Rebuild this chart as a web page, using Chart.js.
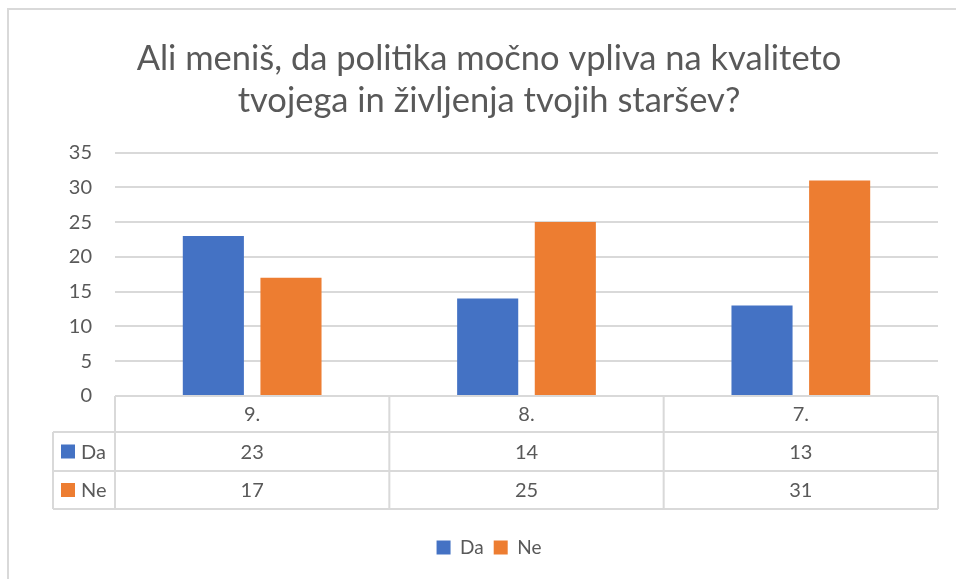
<!DOCTYPE html>
<html>
<head>
<meta charset="utf-8">
<script src="https://cdn.jsdelivr.net/npm/chart.js@4"></script>
<style>
  html, body { margin: 0; padding: 0; background: #fff; }
  #wrap { position: relative; width: 956px; height: 579px; }
</style>
</head>
<body>
<div id="wrap"><canvas id="chart" width="956" height="579"></canvas></div>
<script>
const titleLines = ["Ali meniš, da politika močno vpliva na kvaliteto", "tvojega in življenja tvojih staršev?"];
const categories = ["9.", "8.", "7."];
const daValues = [23, 14, 13];
const neValues = [17, 25, 31];
const yTicks = [0, 5, 10, 15, 20, 25, 30, 35];

const textColor = "#595959";
const lineColor = "#d9d9d9";
const blue = "#4472c4";
const orange = "#ed7d31";
const fontFamily = "Lato, 'Open Sans', sans-serif";

// excel style data table under the plot, plus the outer frame
const tablePlugin = {
    id: "dataTable",
    beforeDraw(chart) {
        const ctx = chart.ctx;
        ctx.save();
        ctx.strokeStyle = lineColor;
        ctx.lineWidth = 2;
        ctx.beginPath();
        ctx.moveTo(8, 579);
        ctx.lineTo(8, 9);
        ctx.lineTo(956, 9);
        ctx.stroke();
        ctx.restore();
    },
    afterDraw(chart) {
        const ctx = chart.ctx;
        const x = chart.scales.x;
        const area = chart.chartArea;
        const rowTop = area.bottom;
        const rowH = [36, 39, 38];
        const leftCol = 53;
        const y1 = rowTop + rowH[0];
        const y2 = y1 + rowH[1];
        const y3 = y2 + rowH[2];
        const colW = (area.right - area.left) / categories.length;

        ctx.save();
        ctx.strokeStyle = lineColor;
        ctx.lineWidth = 2;
        ctx.beginPath();
        // horizontal lines
        ctx.moveTo(area.left, rowTop); ctx.lineTo(area.right, rowTop);
        [y1, y2, y3].forEach(y => { ctx.moveTo(leftCol, y); ctx.lineTo(area.right, y); });
        // vertical lines
        for (let i = 0; i <= categories.length; i++) {
            const vx = area.left + colW * i;
            ctx.moveTo(vx, rowTop); ctx.lineTo(vx, y3);
        }
        ctx.moveTo(leftCol, y1); ctx.lineTo(leftCol, y3);
        ctx.stroke();

        ctx.fillStyle = textColor;
        ctx.font = "20px " + fontFamily;
        ctx.textAlign = "center";
        ctx.textBaseline = "middle";
        categories.forEach((c, i) => {
            const cx = x.getPixelForValue(i);
            ctx.fillText(c, cx, rowTop + rowH[0] / 2 + 1);
            ctx.fillText(String(daValues[i]), cx, y1 + rowH[1] / 2 + 1);
            ctx.fillText(String(neValues[i]), cx, y2 + rowH[2] / 2 + 1);
        });

        // series keys in the left column
        const keys = [["Da", blue, y1 + rowH[1] / 2], ["Ne", orange, y2 + rowH[2] / 2]];
        keys.forEach(k => {
            ctx.fillStyle = k[1];
            ctx.fillRect(61, k[2] - 7, 14, 14);
            ctx.fillStyle = textColor;
            ctx.textAlign = "left";
            ctx.fillText(k[0], 81, k[2] + 1);
        });
        ctx.restore();
    }
};

const ctx = document.getElementById("chart").getContext("2d");
const myChart = new Chart(ctx,
{
    type: "bar",
    data:
    {
        labels: categories,
        datasets:
        [{
            label: "Da",
            data: daValues,
            backgroundColor: blue
        },
        {
            label: "Ne",
            data: neValues,
            backgroundColor: orange
        }]
    },
    options:
    {
        responsive: false,
        animation: false,
        layout: { padding: { left: 40, right: 18, top: 0, bottom: 12 } },
        datasets: { bar: { categoryPercentage: 0.566, barPercentage: 0.787 } },
        scales:
        {
            x:
            {
                grid: { display: false, drawTicks: false },
                border: { display: false },
                ticks: { display: false },
                afterFit: scale => { scale.height = 132; }
            },
            y:
            {
                min: 0,
                max: 35,
                afterBuildTicks: scale => { scale.ticks = yTicks.map(v => ({ value: v })); },
                grid: { color: lineColor, lineWidth: 2, drawTicks: false },
                border: { display: false },
                ticks: { color: textColor, padding: 23, font: { family: fontFamily, size: 20 } },
                afterFit: scale => { scale.width = 75; }
            }
        },
        plugins:
        {
            title:
            {
                display: true,
                text: titleLines,
                color: textColor,
                font: { family: fontFamily, size: 34.5, weight: "normal", lineHeight: 1.24 },
                padding: { top: 37, bottom: 30 }
            },
            legend:
            {
                position: "bottom",
                labels:
                {
                    color: textColor,
                    boxWidth: 14,
                    boxHeight: 14,
                    padding: 10,
                    font: { family: fontFamily, size: 19 }
                }
            },
            tooltip: { enabled: false }
        }
    },
    plugins: [tablePlugin]
});
</script>
</body>
</html>
